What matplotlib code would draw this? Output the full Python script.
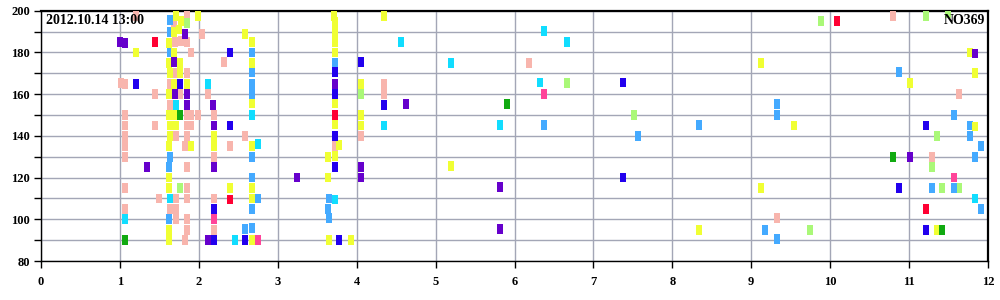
import matplotlib
matplotlib.use("Agg")
import matplotlib.pyplot as plt
import numpy as np

# Data: (x, y) centres of each small block, grouped by colour
pink_pts = [(1.21, 197.5), (1.85, 197.5), (1.69, 193), (2.04, 189), (1.70, 185), (1.77, 185.5),
            (1.85, 185), (1.90, 180), (2.32, 175.5), (1.70, 170), (1.85, 170), (1.01, 165.5),
            (1.06, 165), (1.63, 165), (1.44, 160), (1.76, 160), (2.11, 160), (1.63, 155),
            (1.06, 150), (1.06, 145), (1.06, 140), (1.06, 135), (1.06, 130), (1.44, 145),
            (1.85, 150), (1.90, 150), (1.85, 145), (1.90, 145), (1.99, 150), (2.19, 150),
            (1.71, 140), (1.85, 140), (2.59, 140), (1.83, 135), (2.39, 135), (2.19, 130),
            (1.85, 125), (1.06, 115), (1.85, 115), (1.49, 110), (1.71, 110), (1.85, 110),
            (2.19, 110), (1.06, 105), (1.63, 105), (1.71, 105), (1.71, 100), (1.85, 100),
            (1.85, 95), (2.19, 95), (1.83, 90), (3.72, 135), (4.06, 140), (4.35, 165),
            (4.35, 160), (6.18, 175), (9.32, 100.5), (10.79, 197.5), (11.63, 160), (11.29, 130)]
lgreen_pts = [(1.85, 194), (1.76, 115), (4.06, 160), (6.67, 165.5), (7.51, 150), (9.88, 195),
              (9.74, 95), (11.21, 197.5), (11.49, 199), (11.35, 140), (11.29, 125),
              (11.42, 115), (11.63, 115)]
lblue_pts = [(1.63, 195.5), (1.63, 190), (1.63, 180), (2.67, 180), (2.68, 170.5), (2.67, 165),
             (2.67, 160), (1.63, 130), (2.68, 130), (1.62, 125), (2.67, 120), (2.75, 110),
             (2.67, 105), (1.62, 100), (2.59, 95.5), (2.68, 96), (3.72, 175), (3.65, 110),
             (3.64, 105), (3.65, 100.5), (6.38, 145.4), (7.57, 140), (8.34, 145.4),
             (9.32, 155.4), (9.32, 150.2), (9.18, 95), (9.32, 90.4), (10.87, 170.5),
             (11.57, 150), (11.77, 145), (11.77, 140), (11.91, 135), (11.84, 130),
             (11.29, 115), (11.57, 115), (11.91, 105)]
yellow_pts = [(1.71, 197.5), (1.77, 195), (1.99, 197.5), (1.69, 190), (1.75, 191), (1.62, 184.5),
              (1.20, 180), (1.69, 180), (1.62, 175), (1.76, 175), (1.63, 170), (1.76, 170),
              (1.69, 165), (1.85, 165), (1.62, 160), (1.62, 150), (1.69, 150), (1.63, 145),
              (1.71, 145), (1.63, 140), (1.62, 135), (1.90, 135), (1.62, 120), (1.62, 115),
              (1.62, 95), (1.62, 90), (2.59, 189), (2.67, 185), (2.67, 175), (2.68, 155.5),
              (2.19, 140), (2.19, 135), (2.67, 135), (2.39, 115), (2.67, 115), (2.68, 110),
              (2.67, 90), (3.71, 197.5), (3.72, 194.5), (3.72, 190), (3.72, 185), (3.72, 180),
              (3.73, 155.5), (3.73, 145.5), (3.78, 135.5), (3.64, 130), (3.73, 130.5),
              (3.64, 120), (3.65, 90), (3.93, 90), (4.06, 165), (4.06, 150), (4.06, 145),
              (4.35, 197.5), (5.20, 125.5), (8.34, 95), (9.12, 175), (9.54, 145), (9.12, 115),
              (11.77, 180), (11.84, 170), (11.01, 165.5), (11.84, 144.5), (11.35, 95)]
cyan_pts = [(1.71, 155), (2.11, 165), (2.67, 150), (2.75, 136), (1.63, 110), (1.06, 100),
            (2.46, 90), (3.72, 109.5), (4.56, 185), (4.35, 145), (5.20, 175), (5.82, 145.4),
            (6.38, 190.3), (6.32, 165.6), (6.67, 185.2), (11.84, 110)]
blue_pts = [(1.20, 165), (1.76, 165), (2.39, 180), (2.39, 145), (2.19, 105), (2.19, 90),
            (2.59, 90), (3.73, 170.5), (3.72, 160), (3.72, 140), (3.72, 125), (3.78, 90),
            (4.06, 175.5), (4.35, 155), (7.37, 165.6), (7.37, 120), (11.21, 145),
            (10.87, 115), (11.21, 95)]
purple_pts = [(1.00, 185), (1.06, 184.5), (1.83, 189), (1.69, 175.5), (1.70, 160), (1.85, 160),
              (1.85, 155), (2.18, 155), (2.19, 145), (1.34, 125), (2.19, 125), (3.24, 120),
              (2.11, 90), (3.72, 165), (4.06, 125), (4.06, 120), (4.63, 155.4), (5.82, 115.4),
              (5.82, 95.2), (11.84, 179.5), (11.01, 130)]
red_pts = [(1.44, 185), (2.39, 109.5), (3.72, 150), (10.09, 195), (11.21, 105)]
green_pts = [(1.76, 150), (1.06, 90), (5.90, 155.4), (10.79, 130), (11.42, 95)]
hotpink_pts = [(2.19, 100), (2.75, 90), (6.38, 160.2), (11.57, 120)]

groups = [
    (pink_pts, "#f8b5ad"),
    (lgreen_pts, "#aaf878"),
    (lblue_pts, "#44aaff"),
    (yellow_pts, "#f0ff33"),
    (cyan_pts, "#11ddff"),
    (blue_pts, "#2200ee"),
    (purple_pts, "#6600cc"),
    (red_pts, "#ff0033"),
    (green_pts, "#11aa11"),
    (hotpink_pts, "#ff4499"),
]

BLOCK_W = 0.076
BLOCK_H = 4.7

plt.rcParams['font.family'] = ['Liberation Serif', 'DejaVu Serif']

fig = plt.figure(figsize=(10, 3), dpi=100)
ax = fig.add_axes([0.041, 0.13, 0.947, 0.834])

for pts, col in groups:
    arr = np.array(pts)
    ax.bar(arr[:, 0], BLOCK_H, bottom=arr[:, 1] - BLOCK_H / 2, width=BLOCK_W,
           color=col, linewidth=0, zorder=3)

ax.set_xlim(0, 12)
ax.set_ylim(80, 200)
ax.set_xticks(range(0, 13))
ax.set_yticks(range(80, 201, 20))
ax.set_yticks(range(90, 200, 20), minor=True)
ax.grid(True, which='both', color='#a3a6b6', lw=1, zorder=1)
ax.set_axisbelow(True)

ax.tick_params(axis='both', which='both', direction='out', length=5, width=1,
               color='black', labelsize=9)
ax.tick_params(axis='y', pad=3)
ax.tick_params(axis='x', pad=6)
for lab in ax.get_xticklabels() + ax.get_yticklabels():
    lab.set_fontweight('bold')

ax.spines['left'].set_linewidth(1)
ax.spines['bottom'].set_linewidth(1)
ax.spines['top'].set_linewidth(1.6)
ax.spines['right'].set_linewidth(1.6)

ax.text(0.005, 0.962, "2012.10.14 13:00", transform=ax.transAxes, fontsize=10,
        fontweight='bold', ha='left', va='center', zorder=5)
ax.text(0.997, 0.962, "NO369", transform=ax.transAxes, fontsize=10,
        fontweight='bold', ha='right', va='center', zorder=5)

fig.savefig("out.png", dpi=100)
